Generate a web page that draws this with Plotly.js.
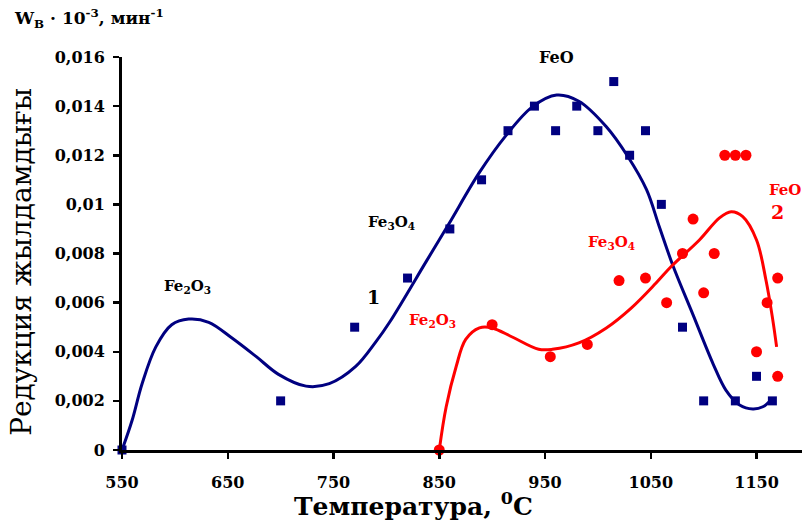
<!DOCTYPE html>
<html>
<head>
<meta charset="utf-8">
<script src="https://cdn.plot.ly/plotly-3.0.1.min.js"></script>
<style>html,body{margin:0;padding:0;background:#fff;}#chart{width:805px;height:524px;}</style>
</head>
<body>
<div id="chart"></div>
<script>
// Series 1 (blue squares) measured points
const tempS1 = [550, 700, 770, 820, 860, 890, 915, 940, 960, 980, 1000, 1015, 1030, 1045, 1060, 1080, 1100, 1130, 1150, 1165];
const rateS1 = [0, 0.002, 0.005, 0.007, 0.009, 0.011, 0.013, 0.014, 0.013, 0.014, 0.013, 0.015, 0.012, 0.013, 0.010, 0.005, 0.002, 0.002, 0.003, 0.002];
// Series 1 trend curve
const tempC1 = [550, 559.5, 569, 582, 597, 613, 632, 654, 677, 698, 724, 746, 771, 790, 803, 838, 859, 888, 913, 938, 961, 982, 1008, 1028, 1046, 1058, 1071, 1090, 1109, 1121, 1134, 1146.5, 1156, 1165];
const rateC1 = [0, 0.0012, 0.0027, 0.0042, 0.0051, 0.00533, 0.0052, 0.00456, 0.0038, 0.00308, 0.0026, 0.0027, 0.0034, 0.0044, 0.0052, 0.0077, 0.0092, 0.0113, 0.0128, 0.01397, 0.01445, 0.0142, 0.01316, 0.01197, 0.0106, 0.0091, 0.0075, 0.0055, 0.0035, 0.00244, 0.00183, 0.00167, 0.00176, 0.0021];
// Series 2 (red circles) measured points
const tempS2 = [850, 900, 955, 990, 1020, 1045, 1065, 1080, 1090, 1100, 1110, 1120, 1130, 1140, 1150, 1160, 1170, 1170];
const rateS2 = [0, 0.0051, 0.0038, 0.0043, 0.0069, 0.007, 0.006, 0.008, 0.0094, 0.0064, 0.008, 0.012, 0.012, 0.012, 0.004, 0.006, 0.007, 0.003];
// Series 2 trend curve
const tempC2 = [850, 856.5, 866, 875, 888, 900, 919, 944, 957, 982, 1008, 1032, 1055, 1070, 1096, 1115, 1126, 1137, 1150, 1159, 1165, 1169];
const rateC2 = [0, 0.00175, 0.0034, 0.0045, 0.00497, 0.00497, 0.0046, 0.0041, 0.0041, 0.00436, 0.00497, 0.0058, 0.0068, 0.0075, 0.00855, 0.00945, 0.0097, 0.0095, 0.00855, 0.0069, 0.0054, 0.0042];

const xTicks = [550, 650, 750, 850, 950, 1050, 1150];
const yTicks = [0, 0.002, 0.004, 0.006, 0.008, 0.010, 0.012, 0.014, 0.016];
const yTickText = ['0', '0,002', '0,004', '0,006', '0,008', '0,01', '0,012', '0,014', '0,016'];

const BLUE = '#000080', RED = '#FF0000';
const SERIF = 'DejaVu Serif, serif';

const traces = [
  {x: tempC1, y: rateC1, mode: 'lines', line: {color: BLUE, width: 3, shape: 'spline', smoothing: 1}, cliponaxis: false, hoverinfo: 'skip'},
  {x: tempS1, y: rateS1, mode: 'markers', marker: {symbol: 'square', size: 9, color: BLUE}, cliponaxis: false},
  {x: tempC2, y: rateC2, mode: 'lines', line: {color: RED, width: 3, shape: 'spline', smoothing: 1}, cliponaxis: false, hoverinfo: 'skip'},
  {x: tempS2, y: rateS2, mode: 'markers', marker: {symbol: 'circle', size: 11, color: RED}, cliponaxis: false}
];

const lbl = (text, x, y, color, size) => ({text, x, y, xref: 'x', yref: 'y', showarrow: false,
  xanchor: 'center', yanchor: 'middle',
  font: {family: SERIF, size: size || 14, color, weight: 'bold'}});

const layout = {
  width: 805, height: 524,
  margin: {l: 122, r: 3, t: 57, b: 74},
  paper_bgcolor: '#fff', plot_bgcolor: '#fff',
  showlegend: false,
  xaxis: {range: [550, 1193], tickvals: xTicks, ticktext: xTicks.map(String),
    showgrid: false, zeroline: false, showline: true, linecolor: '#000', linewidth: 3,
    ticks: 'outside', ticklen: 6, tickwidth: 2.5, tickcolor: '#000', ticklabelstandoff: 10,
    tickfont: {family: SERIF, size: 16, color: '#000', weight: 'bold'}},
  yaxis: {range: [0, 0.016], tickvals: yTicks, ticktext: yTickText,
    showgrid: false, zeroline: false, showline: true, linecolor: '#000', linewidth: 3,
    ticks: 'outside', ticklen: 6, tickwidth: 2.5, tickcolor: '#000', ticklabelstandoff: 5,
    tickfont: {family: SERIF, size: 16, color: '#000', weight: 'bold'}},
  annotations: [
    {text: 'W<sub>В</sub> · 10<sup>-3</sup>, мин<sup>-1</sup>', xref: 'paper', yref: 'paper', x: -0.162, y: 1.099,
      xanchor: 'left', yanchor: 'middle', showarrow: false, font: {family: SERIF, size: 17, color: '#000', weight: 'bold'}},
    {text: 'Редукция жылдамдығы', xref: 'paper', yref: 'paper', x: -0.149, y: 0.478, textangle: -90,
      xanchor: 'center', yanchor: 'middle',
      showarrow: false, font: {family: SERIF, size: 28, color: '#000'}},
    {text: 'Температура, <sup>0</sup>C', xref: 'paper', yref: 'paper', x: 0.428, y: -0.139,
      xanchor: 'center', yanchor: 'middle',
      showarrow: false, font: {family: SERIF, size: 25, color: '#000', weight: 'bold'}},
    lbl('FeO', 960.7, 0.0160, '#000', 16),
    lbl('Fe<sub>3</sub>O<sub>4</sub>', 804.6, 0.00928, '#000', 15),
    lbl('Fe<sub>2</sub>O<sub>3</sub>', 611.5, 0.00664, '#000', 15),
    lbl('1', 787.5, 0.00623, '#000', 19),
    lbl('Fe<sub>2</sub>O<sub>3</sub>', 844, 0.00529, RED, 15),
    lbl('Fe<sub>3</sub>O<sub>4</sub>', 1012.8, 0.00843, RED, 15),
    lbl('FeO', 1176.5, 0.01059, RED, 15),
    lbl('2', 1170, 0.00969, RED, 19)
  ]
};

Plotly.newPlot('chart', traces, layout, {displayModeBar: false, staticPlot: true});
</script>
</body>
</html>
